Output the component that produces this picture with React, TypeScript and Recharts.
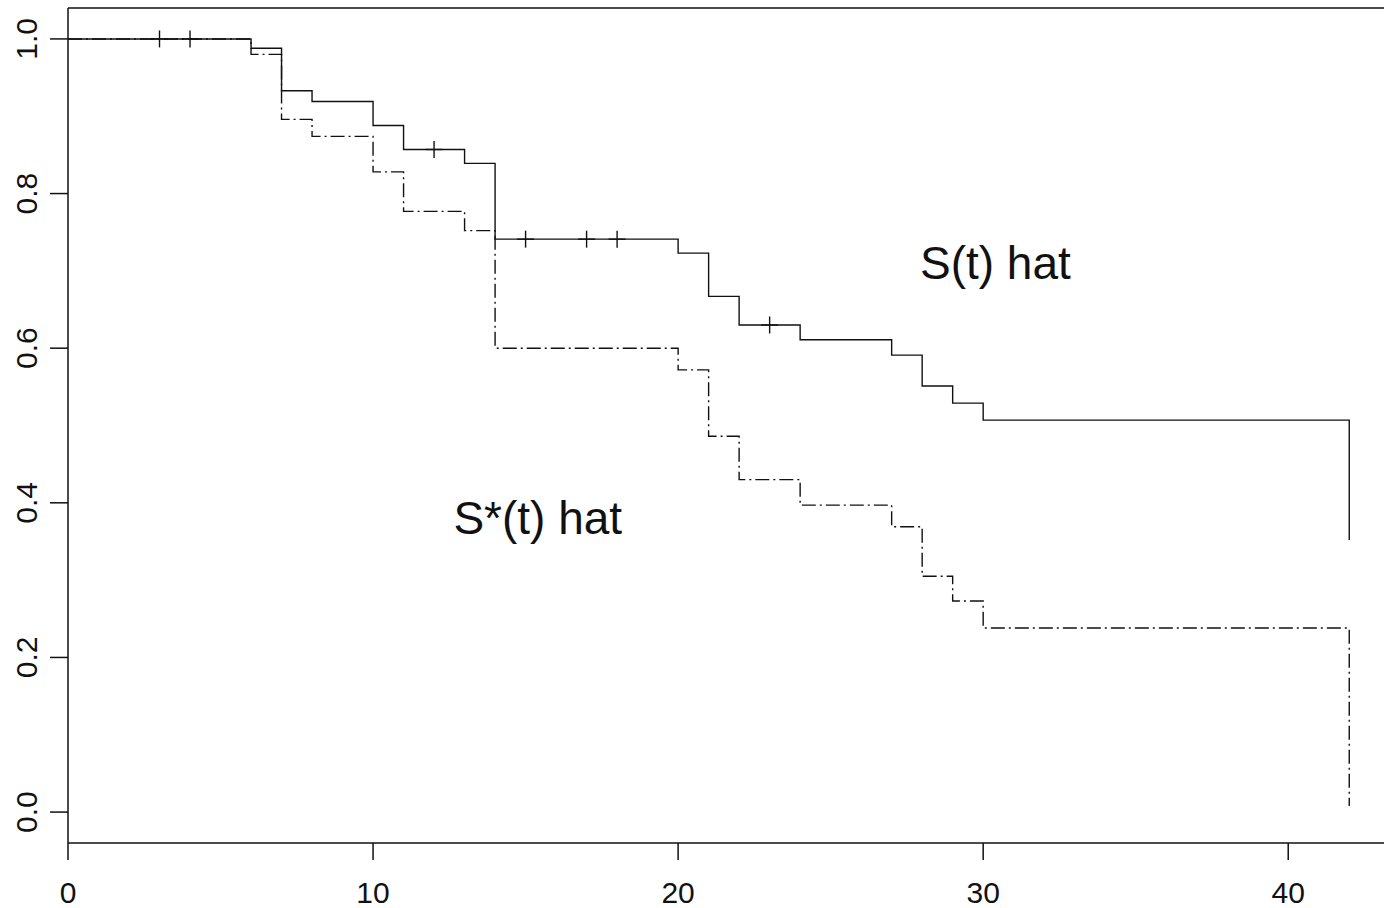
import {
  ComposedChart,
  Line,
  Scatter,
  XAxis,
  YAxis,
  ReferenceLine
} from "recharts";

// Kaplan-Meier estimates
const times = [0, 6, 7, 8, 10, 11, 13, 14, 20, 21, 22, 24, 27, 28, 29, 30, 42];
const sHat = [1.0, 0.988, 0.933, 0.919, 0.888, 0.857, 0.839, 0.741, 0.723, 0.667, 0.630, 0.611, 0.591, 0.551, 0.529, 0.507, 0.352];
const sStarHat = [1.0, 0.980, 0.896, 0.874, 0.828, 0.777, 0.752, 0.600, 0.572, 0.486, 0.430, 0.397, 0.369, 0.305, 0.273, 0.238, 0.008];

// censored observations on S(t) hat
const censorTimes = [3, 4, 12, 15, 17, 18, 23];
const censorValues = [1.0, 1.0, 0.857, 0.741, 0.741, 0.741, 0.630];

const xTicks = [0, 10, 20, 30, 40];
const yTicks = [0, 0.2, 0.4, 0.6, 0.8, 1.0];

const labels = ["S(t) hat", "S*(t) hat"];
const labelTimes = [30.4, 15.4];
const labelValues = [0.71, 0.38];

const X_DOMAIN: [number, number] = [0, 43.5];
const Y_DOMAIN: [number, number] = [-0.04, 1.04];

const FONT = "'Liberation Sans', Arial, Helvetica, sans-serif";
const INK = "#111";

function YTick({ x, y, payload }: any) {
  const bx = x - 11;
  return (
    <text
      x={bx}
      y={y}
      transform={`rotate(-90, ${bx}, ${y})`}
      textAnchor="middle"
      fontFamily={FONT}
      fontSize={30}
      fill={INK}
    >
      {payload.value.toFixed(1)}
    </text>
  );
}

function XTick({ x, y, payload }: any) {
  return (
    <text x={x} y={y + 41} textAnchor="middle" fontFamily={FONT} fontSize={30} fill={INK}>
      {payload.value}
    </text>
  );
}

function Plus({ cx, cy }: any) {
  const h = 8.5;
  return (
    <g stroke={INK} strokeWidth={1.4}>
      <line x1={cx - h} y1={cy} x2={cx + h} y2={cy} />
      <line x1={cx} y1={cy - h} x2={cx} y2={cy + h} />
    </g>
  );
}

function Annotation({ cx, cy, payload }: any) {
  return (
    <text x={cx} y={cy + 16} textAnchor="middle" fontFamily={FONT} fontSize={46} fill={INK}>
      {payload.label}
    </text>
  );
}

export default function App() {
  const rows = times.map((t, i) => ({ t, s: sHat[i], sStar: sStarHat[i] }));
  const censored = censorTimes.map((t, i) => ({ t, c: censorValues[i] }));
  const notes = labels.map((label, i) => ({ t: labelTimes[i], v: labelValues[i], label }));

  return (
    <div
      style={{
        position: "absolute",
        left: 0,
        top: 0,
        width: 1384,
        height: 908,
        overflow: "hidden",
        background: "#fff"
      }}
    >
      <ComposedChart
        width={1400}
        height={908}
        data={rows}
        margin={{ top: 8, right: 5, bottom: 0, left: 0 }}
      >
        <XAxis
          dataKey="t"
          type="number"
          domain={X_DOMAIN}
          ticks={xTicks}
          allowDataOverflow
          height={65}
          tickSize={17}
          axisLine={{ stroke: INK, strokeWidth: 1.5 }}
          tickLine={{ stroke: INK, strokeWidth: 1.5 }}
          tick={<XTick />}
        />
        <YAxis
          type="number"
          domain={Y_DOMAIN}
          ticks={yTicks}
          allowDataOverflow
          width={68}
          tickSize={18}
          axisLine={{ stroke: INK, strokeWidth: 1.5 }}
          tickLine={{ stroke: INK, strokeWidth: 1.5 }}
          tick={<YTick />}
        />
        <ReferenceLine y={Y_DOMAIN[1]} stroke={INK} strokeWidth={1.5} />
        <ReferenceLine x={X_DOMAIN[1]} stroke={INK} strokeWidth={1.5} />
        <Line
          type="stepAfter"
          dataKey="sStar"
          stroke={INK}
          strokeWidth={1.4}
          strokeDasharray="14 4 2 4"
          dot={false}
          activeDot={false}
          isAnimationActive={false}
        />
        <Line
          type="stepAfter"
          dataKey="s"
          stroke={INK}
          strokeWidth={1.4}
          dot={false}
          activeDot={false}
          isAnimationActive={false}
        />
        <Scatter data={censored} dataKey="c" shape={<Plus />} isAnimationActive={false} />
        <Scatter data={notes} dataKey="v" shape={<Annotation />} isAnimationActive={false} />
      </ComposedChart>
    </div>
  );
}
